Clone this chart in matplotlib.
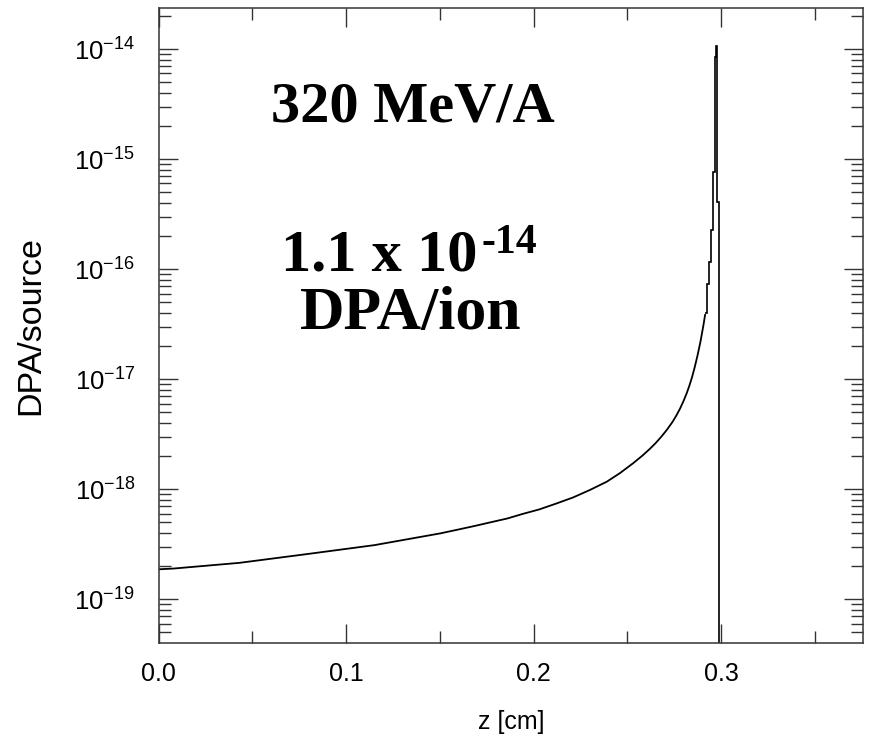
import numpy as np
import matplotlib
matplotlib.use('Agg')
import matplotlib.pyplot as plt
from matplotlib.ticker import MultipleLocator, FixedLocator, FormatStrFormatter

# DPA/source versus depth, smooth part
z_line = [0.000, 0.008, 0.043, 0.079, 0.115, 0.150, 0.159, 0.168, 0.177, 0.186,
          0.194, 0.203, 0.212, 0.221, 0.230, 0.239, 0.246, 0.253, 0.258, 0.262,
          0.265, 0.268, 0.271, 0.274, 0.276, 0.278, 0.280, 0.2816, 0.283, 0.2845,
          0.286, 0.2875, 0.289, 0.2905, 0.2914]
dpa_line = [1.87e-19, 1.90e-19, 2.14e-19, 2.57e-19, 3.10e-19, 3.96e-19, 4.27e-19,
            4.61e-19, 5.0e-19, 5.42e-19, 5.95e-19, 6.55e-19, 7.4e-19, 8.41e-19,
            9.84e-19, 1.17e-18, 1.40e-18, 1.72e-18, 2.02e-18, 2.33e-18, 2.62e-18,
            2.99e-18, 3.46e-18, 4.08e-18, 4.65e-18, 5.38e-18, 6.38e-18, 7.45e-18,
            8.7e-18, 1.05e-17, 1.31e-17, 1.68e-17, 2.22e-17, 3.08e-17, 3.83e-17]

# last histogram bins at the Bragg peak
peak_edges = [0.2914, 0.2924, 0.2934, 0.2944, 0.2955, 0.2965, 0.2973, 0.2976, 0.2986, 0.3000]
peak_dpa = [3.97e-17, 7.4e-17, 1.17e-16, 2.27e-16, 7.7e-16, 8.45e-15, 1.07e-14, 4.1e-16, 1e-30]

y_ticks = [1e-19, 1e-18, 1e-17, 1e-16, 1e-15, 1e-14]

plt.rcParams['font.family'] = ['Liberation Sans', 'DejaVu Sans']

fig = plt.figure(figsize=(8.73, 7.43), dpi=100)
ax = fig.add_axes([0.1818, 0.1346, 0.8067, 0.8546])

ax.plot(z_line, dpa_line, color='k', lw=1.3)
ax.stairs(peak_dpa, peak_edges, baseline=None, color='k', lw=1.2)

ax.set_yscale('log')
ax.set_xlim(0, 0.3756)
ax.set_ylim(4e-20, 2.36e-14)

ax.xaxis.set_major_locator(MultipleLocator(0.1))
ax.xaxis.set_minor_locator(MultipleLocator(0.05))
ax.xaxis.set_major_formatter(FormatStrFormatter('%.1f'))
ax.set_yticks(y_ticks)
minor = [m * d for d in [1e-20, 1e-19, 1e-18, 1e-17, 1e-16, 1e-15, 1e-14] for m in range(2, 10)]
minor = [v for v in minor if 4.01e-20 < v < 2.36e-14]
ax.yaxis.set_minor_locator(FixedLocator(minor))

ax.tick_params(which='both', direction='in', top=True, right=True, color='#333333', width=1.0)
ax.tick_params(which='major', length=14)
ax.tick_params(which='minor', length=8.6)
ax.tick_params(axis='x', labelsize=18, pad=14)
ax.tick_params(axis='y', labelsize=18.5, pad=17)
for s in ax.spines.values():
    s.set_color('#333333')
    s.set_linewidth(1.1)

ax.set_xlabel('z [cm]', fontsize=18, labelpad=17)
ax.set_ylabel('DPA/source', fontsize=24.5, labelpad=20)

serif = dict(family='Liberation Serif', weight='bold', transform=ax.transAxes)
ax.text(0.3614, 0.822, '320 MeV/A', ha='center', va='baseline', fontsize=42, **serif)
ax.text(0.1733, 0.587, '1.1 x 10', ha='left', va='baseline', fontsize=43.5, **serif)
ax.text(0.459, 0.614, '-14', ha='left', va='baseline', fontsize=30, **serif)
ax.text(0.358, 0.494, 'DPA/ion', ha='center', va='baseline', fontsize=44.5, **serif)

fig.savefig('out.png', dpi=100)
